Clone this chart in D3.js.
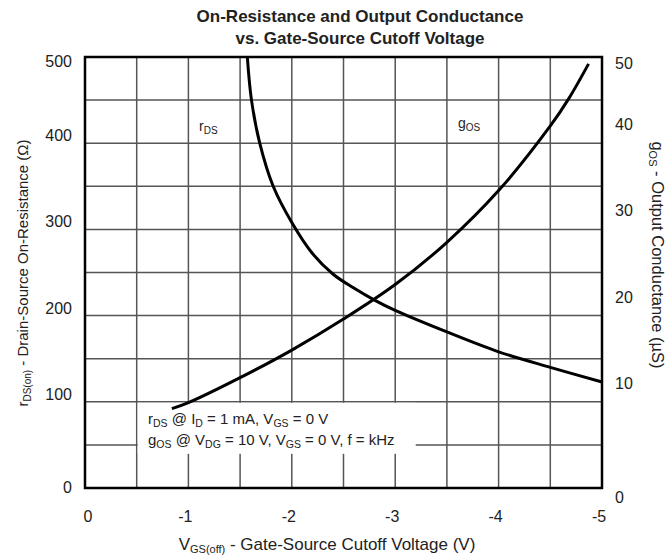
<!DOCTYPE html>
<html>
<head>
<meta charset="utf-8">
<script src="https://cdn.jsdelivr.net/npm/d3@7"></script>
<style>
  body { margin: 0; background: #fff; }
  text { font-family: "Liberation Sans", Arial, sans-serif; fill: #222; }
</style>
</head>
<body>
<div id="chart"></div>
<script>
// rDS curve (V, ohm) and gOS curve (V, uS)
const rdsVolts = [-1.57, -1.61, -1.69, -1.82, -2.0, -2.2, -2.4, -2.6, -2.8, -3.0, -3.5, -4.0, -4.5, -5.0];
const rdsOhms  = [500, 450, 400, 350, 308, 272, 248, 232, 218, 206, 181, 158, 140, 123];
const gosVolts = [-0.84, -1.0, -1.5, -2.0, -2.5, -3.0, -3.5, -4.0, -4.5, -4.68, -4.87];
const gosMicroS = [9.2, 9.9, 12.8, 16.0, 19.6, 23.6, 28.5, 34.5, 42.0, 45.2, 49.2];

const xTicks = [0, -1, -2, -3, -4, -5];
const leftTicks = [0, 100, 200, 300, 400, 500];
const rightTicks = [0, 10, 20, 30, 40, 50];

const W = 669, H = 557;
const margin = { top: 57, right: 67, bottom: 69, left: 85 };

const svg = d3.select("#chart").append("svg")
    .attr("width", W)
    .attr("height", H);

const x = d3.scaleLinear().domain([0, -5]).range([margin.left, W - margin.right]);
const yL = d3.scaleLinear().domain([0, 500]).range([H - margin.bottom, margin.top]);
const yR = d3.scaleLinear().domain([0, 50]).range([H - margin.bottom, margin.top]);

// grid
const grid = svg.append("g").attr("stroke", "#555").attr("stroke-width", 1.5);
grid.selectAll(".vx").data(d3.range(1, 10).map(i => -i * 0.5))
    .enter().append("line")
    .attr("x1", d => x(d)).attr("x2", d => x(d))
    .attr("y1", yL(0)).attr("y2", yL(500));
grid.selectAll(".hy").data(d3.range(1, 10).map(i => i * 50))
    .enter().append("line")
    .attr("x1", x(0)).attr("x2", x(-5))
    .attr("y1", d => yL(d)).attr("y2", d => yL(d));

// white box behind the test conditions
svg.append("rect")
    .attr("x", x(-0.5) + 1).attr("y", yL(100) + 1)
    .attr("width", 278).attr("height", 51)
    .attr("fill", "#fff");

const rdsData = rdsVolts.map((v, i) => [v, rdsOhms[i]]);
const gosData = gosVolts.map((v, i) => [v, gosMicroS[i]]);

svg.append("path")
    .datum(rdsData)
    .attr("fill", "none").attr("stroke", "#000").attr("stroke-width", 3)
    .attr("d", d3.line().x(d => x(d[0])).y(d => yL(d[1])).curve(d3.curveCatmullRom.alpha(0.5)));

svg.append("path")
    .datum(gosData)
    .attr("fill", "none").attr("stroke", "#000").attr("stroke-width", 3)
    .attr("d", d3.line().x(d => x(d[0])).y(d => yR(d[1])).curve(d3.curveCatmullRom.alpha(0.5)));

// frame
svg.append("rect")
    .attr("x", x(0)).attr("y", yL(500))
    .attr("width", x(-5) - x(0)).attr("height", yL(0) - yL(500))
    .attr("fill", "none").attr("stroke", "#000").attr("stroke-width", 2.5);

// tick labels
svg.append("g").selectAll("text").data(leftTicks).enter().append("text")
    .attr("x", 72)
    .attr("y", d => yL(d) + (d === 500 ? 10 : d === 0 ? 5 : -2))
    .attr("text-anchor", "end").attr("font-size", 16)
    .text(d => d);

svg.append("g").selectAll("text").data(rightTicks).enter().append("text")
    .attr("x", 615)
    .attr("y", d => yR(d) + (d === 50 ? 12 : d === 0 ? 15 : -13))
    .attr("font-size", 16)
    .text(d => d);

svg.append("g").selectAll("text").data(xTicks).enter().append("text")
    .attr("x", d => x(d) - (d === 0 ? -3 : 3))
    .attr("y", 522)
    .attr("text-anchor", "middle").attr("font-size", 16)
    .text(d => d);

// helper for text with subscripts: parts = [[text, isSub], ...]
function richText(sel, parts, subSize) {
    let sub = false;
    parts.forEach(([t, s]) => {
        const ts = sel.append("tspan").text(t);
        if (s && !sub) ts.attr("dy", 3).attr("font-size", subSize);
        else if (s) ts.attr("font-size", subSize);
        else if (!s && sub) ts.attr("dy", -3);
        sub = s;
    });
    return sel;
}

// title
svg.append("text").attr("x", 360).attr("y", 22)
    .attr("text-anchor", "middle").attr("font-size", 17).attr("font-weight", "bold").attr("fill", "#000")
    .text("On-Resistance and Output Conductance");
svg.append("text").attr("x", 360).attr("y", 44)
    .attr("text-anchor", "middle").attr("font-size", 17).attr("font-weight", "bold").attr("fill", "#000")
    .text("vs. Gate-Source Cutoff Voltage");

// axis titles
richText(svg.append("text")
    .attr("transform", "translate(28,273) rotate(-90)")
    .attr("text-anchor", "middle").attr("font-size", 15),
    [["r", false], ["DS(on)", true], [" - Drain-Source On-Resistance (\u03A9)", false]], 10);

richText(svg.append("text")
    .attr("transform", "translate(652,255) rotate(90)")
    .attr("text-anchor", "middle").attr("font-size", 16.5),
    [["g", false], ["OS", true], [" - Output Conductance (\u00B5S)", false]], 11);

richText(svg.append("text")
    .attr("x", 327).attr("y", 550)
    .attr("text-anchor", "middle").attr("font-size", 17),
    [["V", false], ["GS(off)", true], [" - Gate-Source Cutoff Voltage (V)", false]], 11);

// curve labels
richText(svg.append("text").attr("x", 199).attr("y", 131).attr("font-size", 14),
    [["r", false], ["DS", true]], 10);
richText(svg.append("text").attr("x", 458).attr("y", 128).attr("font-size", 14),
    [["g", false], ["OS", true]], 10);

// test conditions
richText(svg.append("text").attr("x", 148).attr("y", 424).attr("font-size", 15),
    [["r", false], ["DS", true], [" @ I", false], ["D", true], [" = 1 mA, V", false], ["GS", true], [" = 0 V", false]], 10.5);
richText(svg.append("text").attr("x", 148).attr("y", 445).attr("font-size", 15),
    [["g", false], ["OS", true], [" @ V", false], ["DG", true], [" = 10 V, V", false], ["GS", true], [" = 0 V, f = kHz", false]], 10.5);
</script>
</body>
</html>
